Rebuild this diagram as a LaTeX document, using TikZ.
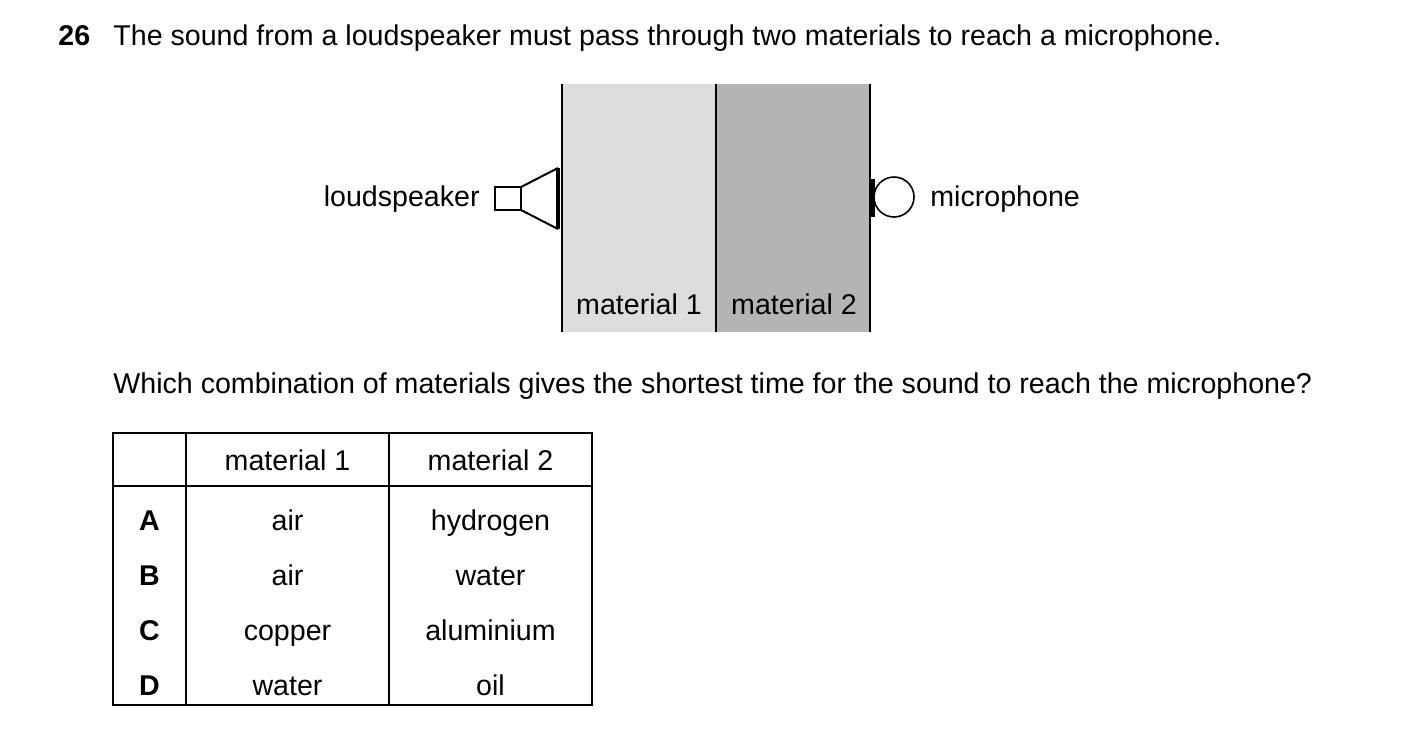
\documentclass[tikz,border=0pt]{standalone}
\usepackage{fontspec}
\setmainfont{Liberation Sans}
\definecolor{matone}{HTML}{DCDDDF}
\definecolor{mattwo}{HTML}{B3B4B6}
\begin{document}
\begin{tikzpicture}[x=0.5pt,y=-0.5pt,
  txt/.style={inner sep=0pt,font=\fontsize{14.3}{17}\selectfont},
  cell/.style={txt,anchor=base}]
\useasboundingbox (0,0) rectangle (1403,752);
%Heading
\node [txt,anchor=base west,font=\fontsize{14.3}{17}\selectfont\bfseries] (num) at (58,45) {26};
\node [txt,anchor=base west] (title) at (113,45) {The sound from a loudspeaker must pass through two materials to reach a microphone.};
%The two materials
\fill [matone] (562,84) rectangle (716,332);
\fill [mattwo] (716,84) rectangle (870,332);
\draw [line width=1.2pt] (562,84) -- (562,332);
\draw [line width=1.2pt] (716,84) -- (716,332);
\draw [line width=1.2pt] (870,84) -- (870,332);
\node [cell] (m1) at (639,314) {material 1};
\node [cell] (m2) at (794,314) {material 2};
%Loudspeaker
\draw [line width=1pt] (495,187) rectangle (521,210);
\draw [line width=1pt] (521,187) -- (558,168);
\draw [line width=1pt] (521,210) -- (558,229);
\draw [line width=2pt] (558,168) -- (558,229);
\node [txt,anchor=base east] (spk) at (480,206) {loudspeaker};
%Microphone
\draw [line width=2pt] (873,179) -- (873,217);
\draw [line width=0.8pt] (894,197) circle (20);
\node [txt,anchor=base west] (mic) at (930,206) {microphone};
%Question
\node [txt,anchor=base west] (qu) at (113,393) {Which combination of materials gives the shortest time for the sound to reach the microphone?};
%Table
\draw [line width=0.8pt] (113,433) rectangle (592,705);
\draw [line width=0.8pt] (113,486) -- (592,486);
\draw [line width=0.8pt] (186,433) -- (186,705);
\draw [line width=0.8pt] (389,433) -- (389,705);
\node [cell] (h1) at (287.5,470) {material 1};
\node [cell] (h2) at (490.5,470) {material 2};
\foreach \l/\a/\b [count=\i] in {A/air/hydrogen,B/air/water,C/copper/aluminium,D/water/oil} {
  \node [cell,font=\fontsize{14.3}{17}\selectfont\bfseries] (r\i) at (149.5,475+55*\i) {\l};
  \node [cell] (a\i) at (287.5,475+55*\i) {\a};
  \node [cell] (b\i) at (490.5,475+55*\i) {\b};
}
\end{tikzpicture}
\end{document}
